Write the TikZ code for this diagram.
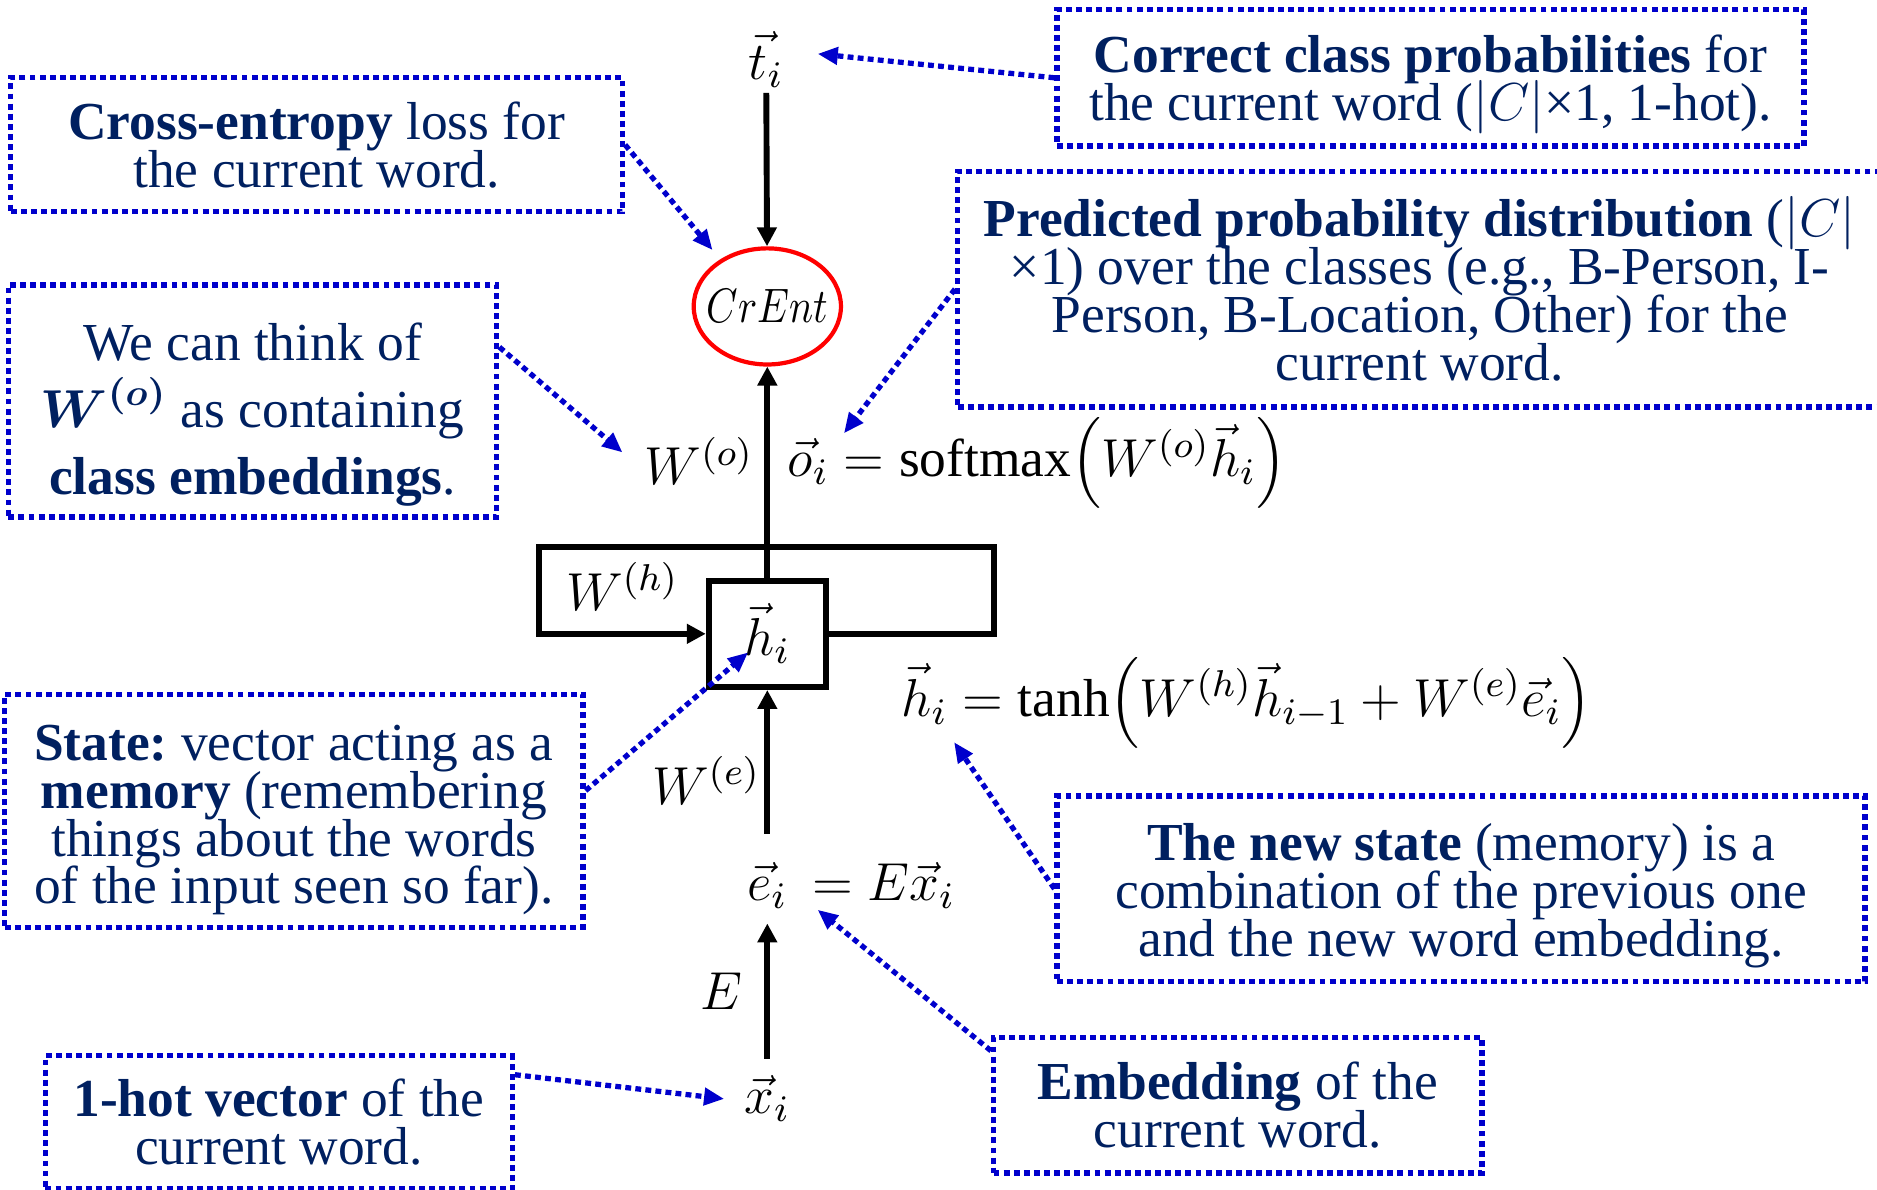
\RequirePackage{fix-cm}
\documentclass[tikz,border=0pt]{standalone}
\usepackage{amsmath}
\usepackage{fontspec}
\setmainfont{Liberation Serif}
\usetikzlibrary{arrows.meta,shapes.geometric}
\frenchspacing

\definecolor{navy}{HTML}{002060}
\definecolor{noteblue}{RGB}{0,0,204}
\newcommand\slidefont{\fontsize{12.7}{11.4}\selectfont\lineskiplimit=-20pt\relax}

\begin{document}
\begin{tikzpicture}[
    every node/.style={font=\slidefont, inner sep=1pt},
    notebox/.style={draw=noteblue, line width=1.25pt, dash pattern=on 1.4pt off 1pt,
      text=navy, align=center, inner sep=0pt},
    noteline/.style={noteblue, line width=1.25pt, dash pattern=on 1.4pt off 1pt,
      -{Triangle[length=4.8pt,width=4pt]}},
    flowline/.style={line width=1.4pt, -{Triangle[length=4.5pt,width=4.5pt]}}
  ]
  \useasboundingbox (0,0) rectangle (15.68,9.94);
  \clip (0,0) rectangle (15.68,9.94);

  % network
  \node (ti) at (6.40,9.44) {$\vec{t}_i$};
  \node[ellipse, draw=red, line width=1pt, minimum width=1.23cm, minimum height=0.97cm, inner sep=0pt] (crent) at (6.41,7.38)
    {\makebox[0pt]{\fontsize{11.5}{11.5}\selectfont\scalebox{0.83}[1]{$CrEnt$}}};
  \node (wo) at (5.84,6.09) {$W^{(o)}$};
  \node[anchor=west] (oeq) at (6.54,6.07) {$\vec{o}_i = \operatorname{softmax}\Bigl(W^{(o)}\vec{h}_i\Bigr)$};
  \node[draw, line width=1.4pt, minimum width=0.98cm, minimum height=0.89cm] (h) at (6.41,4.645) {$\vec{h}_i$};
  \node (wh) at (5.20,5.04) {$W^{(h)}$};
  \node[anchor=west] (heq) at (7.49,4.07) {$\vec{h}_i = \tanh\Bigl(W^{(h)}\vec{h}_{i-1} + W^{(e)}\vec{e}_i\Bigr)$};
  \node (we) at (5.90,3.42) {$W^{(e)}$};
  \node (e) at (6.41,2.54) {$\vec{e}_i$};
  \node[anchor=base west] (eeq) at (e.base east) {${}= E\vec{x}_i$};
  \node (elabel) at (6.03,1.66) {$E$};
  \node (x) at (6.41,0.76) {$\vec{x}_i$};

  \coordinate (loopR) at (8.30,5.37);
  \coordinate (loopL) at (4.50,5.37);

  \draw[flowline] (ti) -- (crent);
  \draw[flowline] (h) -- (crent);
  \draw[flowline, shorten <=0.2cm] (e) -- (h);
  \draw[flowline, shorten <=0.1cm, shorten >=0.08cm] (x) -- (e);
  \draw[flowline] (h.east) -| (loopR) -- (loopL) |- (h.west);

  % notes
  \node[notebox, minimum width=6.24cm, minimum height=1.14cm] (correct) at (11.95,9.29)
    {\rule{0pt}{12.1pt}\textbf{Correct class probabilities} for\\the current word ($|C|$×1, 1-hot).};
  \node[notebox, minimum width=5.11cm, minimum height=1.12cm] (crossent) at (2.645,8.73)
    {\textbf{Cross-entropy} loss for\\the current word.};
  \node[notebox, minimum width=7.72cm, minimum height=1.97cm] (pred) at (11.86,7.525)
    {\textbf{Predicted probability distribution} ($|C|$\\×1) over the classes (e.g., B-Person, I-\\Person, B-Location, Other) for the\\current word.};
  \node[notebox, minimum width=4.08cm, minimum height=1.94cm] (think) at (2.11,6.59)
    {\rule{0pt}{15.5pt}We can think of\\[4.5pt]$\boldsymbol{W}^{\boldsymbol{(o)}}$ as containing\\[4.5pt]\textbf{class embeddings}.};
  \node[notebox, minimum width=4.83cm, minimum height=1.95cm] (state) at (2.455,3.165)
    {\rule{0pt}{12.7pt}\textbf{State:} vector acting as a\\\textbf{memory} (remembering\\things about the words\\of the input seen so far).};
  \node[notebox, minimum width=6.75cm, minimum height=1.55cm] (newstate) at (12.205,2.515)
    {\rule{0pt}{12.1pt}\textbf{The new state} (memory) is a\\combination of the previous one\\and the new word embedding.};
  \node[notebox, minimum width=4.08cm, minimum height=1.13cm] (embed) at (10.34,0.705)
    {\textbf{Embedding} of the\\current word.};
  \node[notebox, minimum width=3.90cm, minimum height=1.11cm] (onehot) at (2.33,0.565)
    {\textbf{1-hot vector} of the\\current word.};

  \coordinate (tiin) at (6.83,9.49);
  \coordinate (oin) at (7.05,6.32);
  \coordinate (woin) at (5.20,6.16);
  \coordinate (hin) at (6.25,4.49);
  \coordinate (hnewin) at (7.97,3.74);
  \coordinate (ein) at (6.83,2.34);
  \coordinate (xin) at (6.05,0.76);

  \draw[noteline] (correct.west) -- (tiin);
  \draw[noteline, shorten >=0.1cm] (crossent.east) -- (crent.135);
  \draw[noteline] (pred.west) -- (oin);
  \draw[noteline] ([yshift=0.45cm]think.east) -- (woin);
  \draw[noteline] ([yshift=0.17cm]state.east) -- (hin);
  \draw[noteline] (newstate.west) -- (hnewin);
  \draw[noteline] ([yshift=-0.13cm]embed.north west) -- (ein);
  \draw[noteline] ([yshift=-0.18cm]onehot.north east) -- (xin);
\end{tikzpicture}
\end{document}
